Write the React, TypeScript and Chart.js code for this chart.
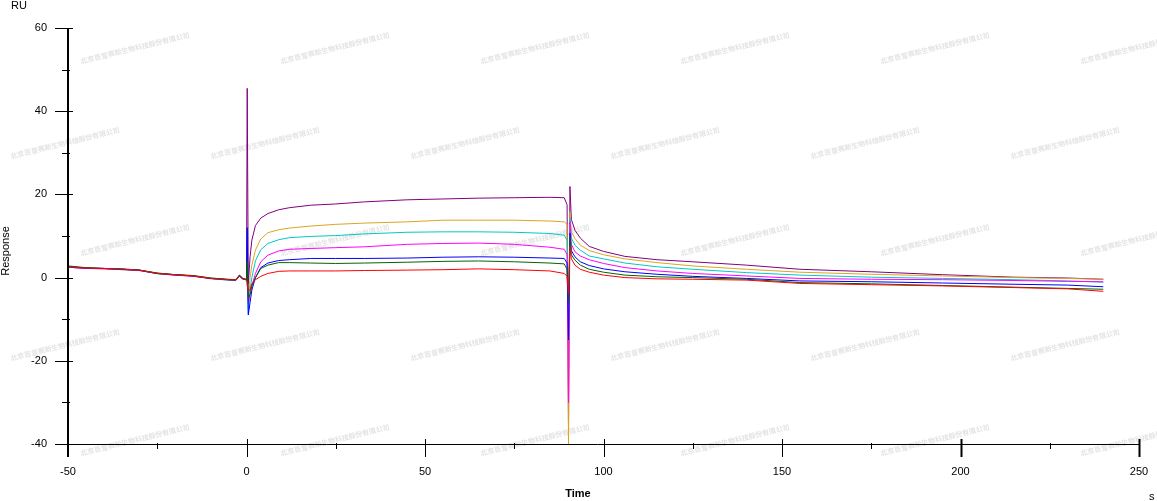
import React, { useEffect, useRef } from "react";
import { Chart, registerables } from "chart.js";

Chart.register(...registerables);

// ---- data ----
const TIME = [
  -50, -45, -40, -35, -30, -25, -20, -15, -10, -5, -3, -2, -1, 0, 0.2, 0.5, 1, 1.5, 2.5, 4,
  6, 9, 12, 18, 25, 33, 45, 55, 65, 75, 85, 89, 89.8, 90.2, 90.6, 91, 92, 93.5, 96, 100,
  106, 115, 125, 140, 155, 175, 195, 215, 230, 240,
];

const RED = [
  2.6, 2.3, 2.2, 2.0, 1.8, 1.0, 0.7, 0.4, -0.2, -0.5, -0.6, 0.4, -0.3, -0.5, -2, -3, -3, -1.5, -0.5, 0.3,
  1.0, 1.5, 1.6, 1.6, 1.6, 1.7, 1.8, 1.9, 2.1, 1.9, 1.6, 1.0, 0.3, -4, 7.4, 4.5, 3.0, 2.0, 1.3, 0.6,
  0.0, -0.3, -0.4, -0.6, -1.4, -1.7, -2.0, -2.4, -2.7, -3.3,
];
const GREEN = [
  2.8, 2.4, 2.2, 2.1, 1.8, 1.1, 0.7, 0.5, -0.1, -0.4, -0.5, 0.6, -0.2, -0.4, 4, -5, -4, -2, 0, 2.2,
  3.0, 3.6, 3.6, 3.5, 3.4, 3.5, 3.7, 3.9, 4.0, 3.8, 3.5, 3.3, 2.0, -6, 9.8, 5.5, 4.2, 3.0, 2.0, 1.3,
  0.6, 0.2, 0.0, -0.4, -1.2, -1.5, -1.9, -2.3, -2.6, -2.8,
];
const BLUE = [
  2.6, 2.3, 2.2, 2.0, 1.8, 1.0, 0.7, 0.4, -0.2, -0.5, -0.6, 0.4, -0.3, -0.5, 12, -9, -6, -3, 0, 2.4,
  3.5, 4.1, 4.3, 4.6, 4.6, 4.6, 4.7, 4.9, 5.0, 4.9, 4.7, 4.6, 3.5, -15, 10.7, 6.5, 5.0, 3.8, 2.9, 2.1,
  1.4, 0.8, 0.3, -0.2, -0.8, -1.0, -1.3, -1.6, -1.8, -2.2,
];
const MAGENTA = [
  2.5, 2.2, 2.1, 2.0, 1.7, 1.0, 0.6, 0.3, -0.2, -0.5, -0.6, 0.6, -0.2, -0.5, 3, -6, -4, -2, 1, 3.8,
  5.4, 6.4, 6.8, 7.0, 7.2, 7.4, 8.0, 8.2, 8.3, 8.0, 7.3, 6.8, 5.5, -30, 13.4, 8, 6.2, 5.2, 4.3, 3.4,
  2.4, 1.6, 1.0, 0.4, -0.2, -0.4, -0.5, -0.7, -0.9, -1.0,
];
const CYAN = [
  2.7, 2.3, 2.2, 2.1, 1.8, 0.9, 0.6, 0.4, -0.3, -0.6, -0.7, 0.3, -0.4, -0.6, 1, -8.7, -3, 0, 4, 6.7,
  8.2, 9.1, 9.6, 9.9, 10.1, 10.5, 10.9, 11.0, 11.0, 10.9, 10.6, 10.2, 9.0, -10, 14.3, 9.5, 7.8, 6.6, 5.2, 4.5,
  3.5, 2.6, 2.0, 1.2, 0.6, 0.1, -0.2, -0.5, -0.8, -1.1,
];
const ORANGE = [
  2.6, 2.3, 2.1, 2.0, 1.8, 1.1, 0.7, 0.5, -0.1, -0.5, -0.6, 0.5, -0.3, -0.6, 2, -7.7, 0, 3, 6.6, 9.3,
  10.8, 11.5, 11.9, 12.4, 12.8, 13.1, 13.4, 13.8, 13.8, 13.8, 13.6, 13.4, 12.8, -40, 15.8, 11, 9.4, 7.8, 6.5, 5.5,
  4.5, 3.6, 2.8, 2.0, 1.3, 0.8, 0.4, 0.0, -0.2, -0.4,
];
const PURPLE = [
  2.5, 2.2, 2.2, 1.9, 1.7, 1.0, 0.6, 0.4, -0.2, -0.6, -0.7, 0.3, -0.4, -0.5, 45.5, -1.5, 5, 9, 12.5, 14.3,
  15.4, 16.3, 16.8, 17.4, 17.7, 18.2, 18.7, 18.9, 19.1, 19.2, 19.3, 19.2, 17.5, -36, 21.9, 14, 11.4, 9.5, 7.5, 6.3,
  5.1, 4.3, 3.8, 3.0, 2.0, 1.4, 0.7, 0.1, -0.1, -0.4,
];

const SERIES = [
  { name: "red", values: RED, color: "#FF0000" },
  { name: "green", values: GREEN, color: "#006400" },
  { name: "blue", values: BLUE, color: "#0000FF" },
  { name: "magenta", values: MAGENTA, color: "#FF00FF" },
  { name: "cyan", values: CYAN, color: "#00C8C8" },
  { name: "orange", values: ORANGE, color: "#DAA520" },
  { name: "purple", values: PURPLE, color: "#800080" },
];

const X_TICKS = [-50, 0, 50, 100, 150, 200, 250];
const X_MINOR = [-25, 25, 75, 125, 175, 225];
const Y_TICKS = [-40, -20, 0, 20, 40, 60];
const Y_MINOR = [-30, -10, 10, 30, 50];

const WATERMARK = "北京百普赛斯生物科技股份有限公司";
const FONT = '"Liberation Sans", Arial, sans-serif';

const watermarkPlugin = {
  id: "watermark",
  beforeDraw(chart: any) {
    const ctx = chart.ctx;
    ctx.save();
    ctx.font = 'bold 7px "Noto Sans CJK SC", sans-serif';
    ctx.fillStyle = "rgba(200,200,200,0.5)";
    ctx.textAlign = "center";
    ctx.textBaseline = "middle";
    const rows = [48, 143, 240, 345, 440];
    rows.forEach((ry, ri) => {
      const start = ri % 2 === 0 ? 135 : 65;
      for (let cx = start; cx < 1220; cx += 200) {
        ctx.save();
        ctx.translate(cx, ry);
        ctx.rotate(-0.24);
        ctx.fillText(WATERMARK, 0, 0);
        ctx.restore();
      }
    });
    ctx.restore();
  },
};

const axesPlugin = {
  id: "customAxes",
  afterDraw(chart: any) {
    const ctx = chart.ctx;
    const xs = chart.scales.x;
    const ys = chart.scales.y;
    const x0 = Math.round(xs.getPixelForValue(-50));
    const yTop = Math.round(ys.getPixelForValue(60));
    const yBot = Math.round(ys.getPixelForValue(-40));
    const xEnd = Math.round(xs.getPixelForValue(250));
    ctx.save();
    ctx.strokeStyle = "#000";
    ctx.lineWidth = 2;
    ctx.beginPath();
    ctx.moveTo(x0, yTop);
    ctx.lineTo(x0, yBot + 13);
    ctx.stroke();
    ctx.lineWidth = 1;
    ctx.beginPath();
    ctx.moveTo(x0 - 13, yBot + 0.5);
    ctx.lineTo(xEnd + 1, yBot + 0.5);
    ctx.stroke();
    Y_TICKS.forEach((v) => {
      const py = Math.round(ys.getPixelForValue(v)) + 0.5;
      ctx.beginPath();
      ctx.moveTo(x0 - 13, py);
      ctx.lineTo(x0 + 5, py);
      ctx.stroke();
    });
    Y_MINOR.forEach((v) => {
      const py = Math.round(ys.getPixelForValue(v)) + 0.5;
      ctx.beginPath();
      ctx.moveTo(x0 - 6, py);
      ctx.lineTo(x0 + 2, py);
      ctx.stroke();
    });
    X_TICKS.forEach((v, i) => {
      if (i === 0) return;
      const px = Math.round(xs.getPixelForValue(v)) + 0.5;
      ctx.lineWidth = v === 200 || v === 250 ? 2 : 1;
      ctx.beginPath();
      ctx.moveTo(px, yBot - 5);
      ctx.lineTo(px, yBot + 13);
      ctx.stroke();
    });
    ctx.lineWidth = 1;
    X_MINOR.forEach((v) => {
      const px = Math.round(xs.getPixelForValue(v)) + 0.5;
      ctx.beginPath();
      ctx.moveTo(px, yBot - 1);
      ctx.lineTo(px, yBot + 5);
      ctx.stroke();
    });
    ctx.fillStyle = "#000";
    ctx.font = "11px " + FONT;
    ctx.textAlign = "right";
    ctx.textBaseline = "middle";
    Y_TICKS.forEach((v) => {
      ctx.fillText(String(v), x0 - 21, ys.getPixelForValue(v));
    });
    ctx.textAlign = "center";
    X_TICKS.forEach((v) => {
      ctx.fillText(String(v), xs.getPixelForValue(v), yBot + 28);
    });
    ctx.textAlign = "left";
    ctx.fillText("RU", 11, 6);
    ctx.fillText("s", 1149, 497);
    ctx.font = "bold 11px " + FONT;
    ctx.textAlign = "center";
    ctx.fillText("Time", 578, 494);
    ctx.font = "11px " + FONT;
    ctx.save();
    ctx.translate(6, 251);
    ctx.rotate(-Math.PI / 2);
    ctx.fillText("Response", 0, 0);
    ctx.restore();
    ctx.restore();
  },
};

export default function App() {
  const ref = useRef<HTMLCanvasElement | null>(null);
  useEffect(() => {
    document.body.style.margin = "0";
    const canvas = ref.current;
    if (!canvas) return;
    const chart = new Chart(canvas, {
      type: "line",
      data: {
        datasets: SERIES.map((s) => ({
          label: s.name,
          data: TIME.map((t, i) => ({ x: t, y: s.values[i] })),
          borderColor: s.color,
          backgroundColor: s.color,
          borderWidth: 1,
          pointRadius: 0,
          tension: 0,
          fill: false,
        })),
      },
      options: {
        responsive: false,
        animation: false,
        devicePixelRatio: 1,
        layout: { padding: { left: 68, right: 18, top: 28, bottom: 57 } },
        plugins: { legend: { display: false }, tooltip: { enabled: false } },
        scales: {
          x: { type: "linear", min: -50, max: 250, display: false },
          y: { type: "linear", min: -40, max: 60, display: false },
        },
      },
      plugins: [watermarkPlugin, axesPlugin],
    });
    return () => chart.destroy();
  }, []);
  return (
    <div style={{ width: 1157, height: 501, background: "#fff" }}>
      <canvas ref={ref} width={1157} height={501} />
    </div>
  );
}
